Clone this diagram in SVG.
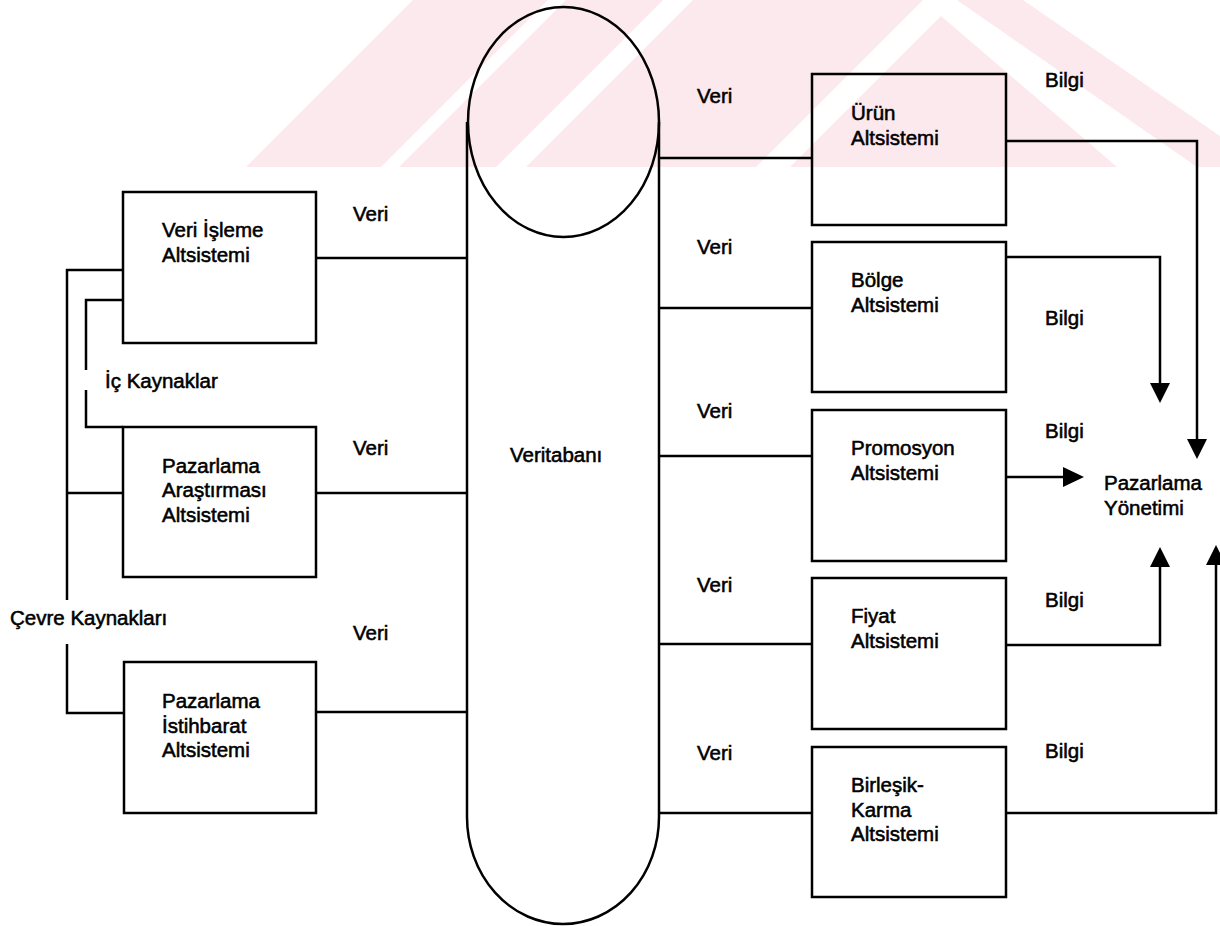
<svg xmlns="http://www.w3.org/2000/svg" width="1220" height="926" viewBox="0 0 1220 926">
  <style>
    .box { fill: none; stroke: #000; stroke-width: 2.5; }
    .ln { fill: none; stroke: #000; stroke-width: 2.5; }
    .t { font-family: "Liberation Sans", Arial, sans-serif; font-size: 20.5px; fill: #000; stroke: #000; stroke-width: 0.55; }
    .wm { fill: #fce9ed; }
  </style>
  <defs>
    <clipPath id="band">
      <rect x="0" y="0" width="1220" height="167"/>
    </clipPath>
  </defs>

  <rect width="1220" height="926" fill="#fff"/>

  <!-- faint background logo stripes -->
  <g id="backdrop" clip-path="url(#band)">
    <polygon class="wm" points="413,0 548,0 381,167 246,167"/>
    <polygon class="wm" points="566,0 663,0 496,167 399,167"/>
    <polygon class="wm" points="693,0 923,0 756,167 526,167"/>
    <polygon class="wm" points="941,16 1117,167 790,167"/>
    <polygon class="wm" points="957,0 1023,0 1265,167 1197,167"/>
  </g>

  <!-- connectors -->
  <g id="connectors">
    <!-- left subsystems to database -->
    <line class="ln" x1="316" y1="258" x2="467" y2="258"/>
    <line class="ln" x1="316" y1="493" x2="467" y2="493"/>
    <line class="ln" x1="316" y1="712" x2="467" y2="712"/>
    <!-- external sources -->
    <polyline class="ln" points="123,270 67,270 67,600"/>
    <polyline class="ln" points="67,644 67,713 124,713"/>
    <line class="ln" x1="67" y1="493" x2="123" y2="493"/>
    <!-- internal sources -->
    <polyline class="ln" points="123,300 86,300 86,370"/>
    <polyline class="ln" points="86,390 86,427 123,427"/>
    <!-- database to right subsystems -->
    <line class="ln" x1="659" y1="158" x2="812" y2="158"/>
    <line class="ln" x1="659" y1="308" x2="812" y2="308"/>
    <line class="ln" x1="659" y1="456" x2="812" y2="456"/>
    <line class="ln" x1="659" y1="644" x2="812" y2="644"/>
    <line class="ln" x1="659" y1="813" x2="812" y2="813"/>
    <!-- information flows to management -->
    <polyline class="ln" points="1006,141 1197,141 1197,440"/>
    <polygon points="1187,439 1207,439 1197,459" fill="#000"/>
    <polyline class="ln" points="1006,257 1160,257 1160,384"/>
    <polygon points="1150,383 1170,383 1160,403" fill="#000"/>
    <line class="ln" x1="1006" y1="477" x2="1064" y2="477"/>
    <polygon points="1063,467 1063,487 1084,477" fill="#000"/>
    <polyline class="ln" points="1006,645 1160,645 1160,566"/>
    <polygon points="1150,567 1170,567 1160,547" fill="#000"/>
    <polyline class="ln" points="1006,813 1216,813 1216,564"/>
    <polygon points="1206,565 1226,565 1216,545" fill="#000"/>
  </g>

  <!-- database cylinder -->
  <g id="veritabani">
    <ellipse class="ln" cx="563.5" cy="122" rx="95.5" ry="115"/>
    <path class="ln" d="M467,122 L467,817 A96,107 0 0 0 659,817 L659,122"/>
    <text class="t" x="510" y="462">Veritabanı</text>
  </g>

  <!-- left subsystems -->
  <g id="veri-isleme">
    <rect class="box" x="123" y="192" width="193" height="151"/>
    <text class="t" x="162" y="237">Veri İşleme</text>
    <text class="t" x="162" y="262">Altsistemi</text>
  </g>
  <g id="pazarlama-arastirmasi">
    <rect class="box" x="123" y="427" width="193" height="150"/>
    <text class="t" x="162" y="473">Pazarlama</text>
    <text class="t" x="162" y="497">Araştırması</text>
    <text class="t" x="162" y="522">Altsistemi</text>
  </g>
  <g id="pazarlama-istihbarat">
    <rect class="box" x="124" y="662" width="192" height="151"/>
    <text class="t" x="162" y="708">Pazarlama</text>
    <text class="t" x="162" y="733">İstihbarat</text>
    <text class="t" x="162" y="757">Altsistemi</text>
  </g>

  <!-- right subsystems -->
  <g id="urun">
    <rect class="box" x="812" y="74" width="194" height="151"/>
    <text class="t" x="851" y="120">Ürün</text>
    <text class="t" x="851" y="145">Altsistemi</text>
  </g>
  <g id="bolge">
    <rect class="box" x="812" y="242" width="194" height="150"/>
    <text class="t" x="851" y="287">Bölge</text>
    <text class="t" x="851" y="312">Altsistemi</text>
  </g>
  <g id="promosyon">
    <rect class="box" x="812" y="410" width="194" height="151"/>
    <text class="t" x="851" y="455">Promosyon</text>
    <text class="t" x="851" y="480">Altsistemi</text>
  </g>
  <g id="fiyat">
    <rect class="box" x="812" y="578" width="194" height="151"/>
    <text class="t" x="851" y="623">Fiyat</text>
    <text class="t" x="851" y="648">Altsistemi</text>
  </g>
  <g id="birlesik-karma">
    <rect class="box" x="812" y="747" width="194" height="150"/>
    <text class="t" x="851" y="792">Birleşik-</text>
    <text class="t" x="851" y="817">Karma</text>
    <text class="t" x="851" y="841">Altsistemi</text>
  </g>

  <!-- management -->
  <g id="pazarlama-yonetimi">
    <text class="t" x="1104" y="490">Pazarlama</text>
    <text class="t" x="1104" y="515">Yönetimi</text>
  </g>

  <!-- flow labels -->
  <g id="labels">
    <text class="t" x="353" y="221">Veri</text>
    <text class="t" x="353" y="455">Veri</text>
    <text class="t" x="353" y="640">Veri</text>
    <text class="t" x="105" y="388">İç Kaynaklar</text>
    <text class="t" x="10" y="625">Çevre Kaynakları</text>
    <text class="t" x="697" y="103">Veri</text>
    <text class="t" x="697" y="254">Veri</text>
    <text class="t" x="697" y="418">Veri</text>
    <text class="t" x="697" y="592">Veri</text>
    <text class="t" x="697" y="760">Veri</text>
    <text class="t" x="1045" y="87">Bilgi</text>
    <text class="t" x="1045" y="325">Bilgi</text>
    <text class="t" x="1045" y="438">Bilgi</text>
    <text class="t" x="1045" y="607">Bilgi</text>
    <text class="t" x="1045" y="758">Bilgi</text>
  </g>
</svg>
